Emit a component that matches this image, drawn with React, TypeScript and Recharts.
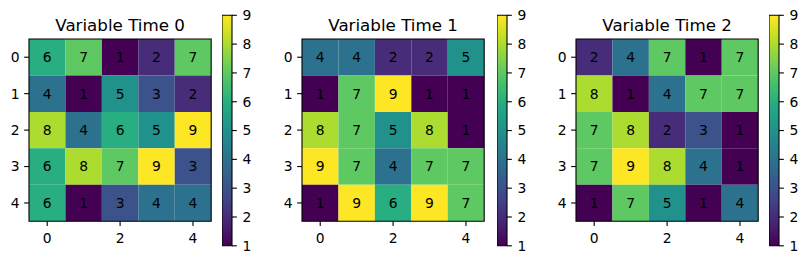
import React from 'react';
import { ScatterChart, Scatter, XAxis, YAxis, ReferenceArea } from 'recharts';

// Grid values, one 5x5 matrix per time step (rows top to bottom)
const time0 = [
  [6, 7, 1, 2, 7],
  [4, 1, 5, 3, 2],
  [8, 4, 6, 5, 9],
  [6, 8, 7, 9, 3],
  [6, 1, 3, 4, 4],
];
const time1 = [
  [4, 4, 2, 2, 5],
  [1, 7, 9, 1, 1],
  [8, 7, 5, 8, 1],
  [9, 7, 4, 7, 7],
  [1, 9, 6, 9, 7],
];
const time2 = [
  [2, 4, 7, 1, 7],
  [8, 1, 4, 7, 7],
  [7, 8, 2, 3, 1],
  [7, 9, 8, 4, 1],
  [1, 7, 5, 1, 4],
];

const titles = ['Variable Time 0', 'Variable Time 1', 'Variable Time 2'];
const rowTicks = [0, 1, 2, 3, 4];
const colTicks = [0, 2, 4];
const colorbarTicks = [1, 2, 3, 4, 5, 6, 7, 8, 9];
const vmin = 1;
const vmax = 9;

// viridis sampled at the integer values 1..9
const viridisAtValue = ['#440154', '#472c7a', '#3b528b', '#2c728e', '#21918c', '#28ae80', '#5ec962', '#addc30', '#fde725'];
// viridis stops for the continuous colour bar
const viridisStops = ['#440154', '#482475', '#414487', '#355f8d', '#2a788e', '#21918c', '#22a884', '#44bf70', '#7ad151', '#bddf26', '#fde725'];

const grids = [time0, time1, time2];

const FONT = 'DejaVu Sans, sans-serif';
const TICK_FONT = 13.9;
const TITLE_FONT = 16.7;
const TICK_LEN = 4.86;
const HEAT = 182.2;
const TOP = 39;
const H = 264;
const Y_AXIS_W = 30;
const CB_W = 10;
const CB_TOP = 15.3;
const CB_BOTTOM = 245.8;

const panelLayout = [
  { heatLeft: 29.4, cbLeft: 222.3 },
  { heatLeft: 302.3, cbLeft: 496.8 },
  { heatLeft: 576.1, cbLeft: 769.4 },
];

const colorFor = (v: number) => viridisAtValue[Math.round(v - vmin)];

function Heatmap({ grid, title }: { grid: number[][]; title: string }) {
  const cells = grid.flatMap((row, r) => row.map((v, c) => ({ x: c, y: r, v })));
  return (
    <ScatterChart
      width={Y_AXIS_W + HEAT + 2}
      height={H}
      margin={{ top: TOP, right: 2, bottom: 0, left: 0 }}
      style={{ fontFamily: FONT }}
    >
      <XAxis
        type="number"
        dataKey="x"
        domain={[-0.5, 4.5]}
        ticks={colTicks}
        allowDataOverflow
        axisLine={false}
        tickSize={TICK_LEN}
        tickMargin={6.6}
        tickLine={{ stroke: '#000', strokeWidth: 1.1 }}
        tick={{ fill: '#000', fontSize: TICK_FONT, fontFamily: FONT }}
        height={H - TOP - HEAT}
        interval={0}
      />
      <YAxis
        type="number"
        dataKey="y"
        domain={[-0.5, 4.5]}
        ticks={rowTicks}
        reversed
        allowDataOverflow
        axisLine={false}
        tickSize={TICK_LEN}
        tickMargin={4.6}
        tickLine={{ stroke: '#000', strokeWidth: 1.1 }}
        tick={{ fill: '#000', fontSize: TICK_FONT, fontFamily: FONT }}
        width={Y_AXIS_W}
        interval={0}
      />
      {cells.map((cell) => (
        <ReferenceArea
          key={`${cell.x}-${cell.y}`}
          x1={cell.x - 0.5}
          x2={cell.x + 0.5}
          y1={cell.y - 0.5}
          y2={cell.y + 0.5}
          fill={colorFor(cell.v)}
          fillOpacity={1}
          stroke="none"
          ifOverflow="visible"
          label={{ value: String(cell.v), position: 'center', fill: '#000', fontSize: TICK_FONT, fontFamily: FONT }}
        />
      ))}
      <ReferenceArea
        x1={-0.5}
        x2={4.5}
        y1={-0.5}
        y2={4.5}
        fill="none"
        fillOpacity={0}
        stroke="#000"
        strokeWidth={1.1}
        ifOverflow="visible"
        label={{ value: title, position: 'top', offset: 8.3, fill: '#000', fontSize: TITLE_FONT, fontFamily: FONT }}
      />
      <Scatter data={cells} isAnimationActive={false} shape={() => <g />} />
    </ScatterChart>
  );
}

function ColorBar({ id }: { id: string }) {
  const ends = [{ x: 0, y: vmin }, { x: 1, y: vmax }];
  return (
    <ScatterChart
      width={CB_W + 40}
      height={H}
      margin={{ top: CB_TOP, right: 0, bottom: H - CB_BOTTOM, left: 0 }}
      style={{ fontFamily: FONT }}
    >
      <defs>
        <linearGradient id={id} x1="0" y1="1" x2="0" y2="0">
          {viridisStops.map((c, i) => (
            <stop key={i} offset={`${(i / (viridisStops.length - 1)) * 100}%`} stopColor={c} />
          ))}
        </linearGradient>
      </defs>
      <XAxis type="number" dataKey="x" domain={[0, 1]} hide height={0} />
      <YAxis
        type="number"
        dataKey="y"
        orientation="right"
        domain={[vmin, vmax]}
        ticks={colorbarTicks}
        axisLine={false}
        tickSize={TICK_LEN}
        tickMargin={5.6}
        tickLine={{ stroke: '#000', strokeWidth: 1.1 }}
        tick={{ fill: '#000', fontSize: TICK_FONT, fontFamily: FONT }}
        width={40}
        interval={0}
      />
      <ReferenceArea
        x1={0}
        x2={1}
        y1={vmin}
        y2={vmax}
        fill={`url(#${id})`}
        fillOpacity={1}
        stroke="#000"
        strokeWidth={1.1}
        ifOverflow="visible"
      />
      <Scatter data={ends} isAnimationActive={false} shape={() => <g />} />
    </ScatterChart>
  );
}

export default function App() {
  return (
    <div style={{ position: 'absolute', left: 0, top: 0, width: 809, height: H, background: '#fff' }}>
      {grids.map((grid, i) => (
        <React.Fragment key={i}>
          <div style={{ position: 'absolute', left: panelLayout[i].heatLeft - Y_AXIS_W, top: 0 }}>
            <Heatmap grid={grid} title={titles[i]} />
          </div>
          <div style={{ position: 'absolute', left: panelLayout[i].cbLeft, top: 0 }}>
            <ColorBar id={`viridis-bar-${i}`} />
          </div>
        </React.Fragment>
      ))}
    </div>
  );
}
